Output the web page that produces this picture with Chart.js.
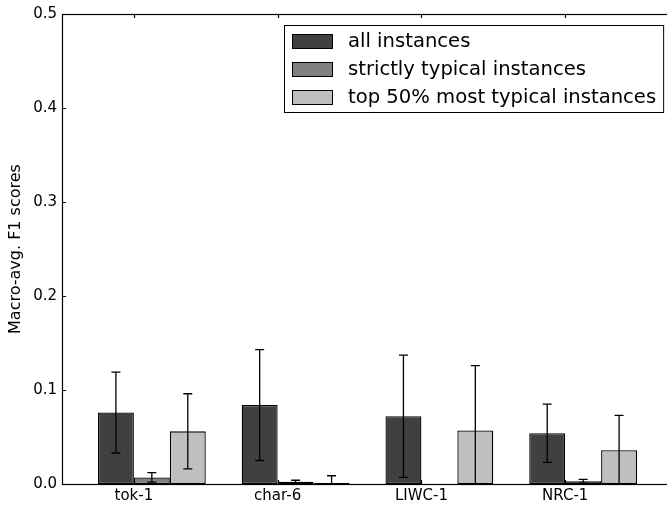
<!DOCTYPE html>
<html>
<head>
<meta charset="utf-8">
<script src="https://cdn.jsdelivr.net/npm/chart.js@4.4.1/dist/chart.umd.min.js"></script>
<style>
html, body { margin: 0; padding: 0; overflow: hidden; background: #fff; }
</style>
</head>
<body>
<canvas id="myChart" width="680" height="508"></canvas>
<script>
// data
const categories = ['tok-1', 'char-6', 'LIWC-1', 'NRC-1'];
const seriesNames = ['all instances', 'strictly typical instances', 'top 50% most typical instances'];
const allInst = [0.076, 0.084, 0.072, 0.054];
const allErr = [0.043, 0.059, 0.065, 0.031];
const strictInst = [0.007, 0.0025, 0.0, 0.003];
const strictErr = [0.005, 0.0015, 0.0, 0.002];
const top50Inst = [0.056, 0.001, 0.057, 0.036];
const top50Err = [0.040, 0.0078, 0.069, 0.037];
const yTicks = [0, 0.1, 0.2, 0.3, 0.4, 0.5];

const fills = ['#404040', '#808080', '#bfbfbf'];
const values = [allInst, strictInst, top50Inst];
const errors = [allErr, strictErr, top50Err];

Chart.defaults.font.family = 'DejaVu Sans';
Chart.defaults.font.size = 15;
Chart.defaults.color = '#000';

// group centre sits 0.375 to the right of the category index, tick at +0.25
const toPoints = arr => arr.map((v, i) => ({ x: i + 0.375, y: v }));

const datasets = values.map((arr, k) => ({
  label: seriesNames[k],
  data: toPoints(arr),
  backgroundColor: fills[k],
  borderColor: '#000',
  borderWidth: 1.3,
  borderSkipped: false,
  barPercentage: 1,
  categoryPercentage: 0.75,
  errors: errors[k]
}));

const extras = {
  id: 'extras',
  afterDatasetsDraw(chart) {
    const c = chart.ctx;
    const area = chart.chartArea;
    const ys = chart.scales.y;
    // error bars
    c.save();
    c.beginPath();
    c.rect(area.left, area.top, area.right - area.left, area.bottom - area.top);
    c.clip();
    c.strokeStyle = '#000';
    c.lineWidth = 1.3;
    chart.data.datasets.forEach((ds, k) => {
      const meta = chart.getDatasetMeta(k);
      meta.data.forEach((bar, i) => {
        const v = ds.data[i].y, e = ds.errors[i];
        if (!e) return;
        const yHi = ys.getPixelForValue(v + e);
        const yLo = ys.getPixelForValue(v - e);
        c.beginPath();
        c.moveTo(bar.x, yHi); c.lineTo(bar.x, yLo);
        c.moveTo(bar.x - 4.5, yHi); c.lineTo(bar.x + 4.5, yHi);
        c.moveTo(bar.x - 4.5, yLo); c.lineTo(bar.x + 4.5, yLo);
        c.stroke();
      });
    });
    c.restore();
  },
  afterDraw(chart) {
    const c = chart.ctx;
    const area = chart.chartArea;
    const xs = chart.scales.x, ys = chart.scales.y;
    c.save();
    c.strokeStyle = '#000';
    c.lineWidth = 1.2;
    // spines
    c.strokeRect(area.left + 0.5, area.top + 0.5, area.right - area.left, area.bottom - area.top);
    // inward ticks
    c.beginPath();
    ys.ticks.forEach(t => {
      const y = Math.round(ys.getPixelForValue(t.value)) + 0.5;
      c.moveTo(area.left, y); c.lineTo(area.left + 4, y);
      c.moveTo(area.right, y); c.lineTo(area.right - 4, y);
    });
    xs.ticks.forEach(t => {
      const x = Math.round(xs.getPixelForValue(t.value)) + 0.5;
      c.moveTo(x, area.top); c.lineTo(x, area.top + 4);
      c.moveTo(x, area.bottom); c.lineTo(x, area.bottom - 4);
    });
    c.stroke();

    // legend box
    c.font = '19.6px DejaVu Sans';
    const names = chart.data.datasets.map(d => d.label);
    const textW = Math.max(...names.map(n => c.measureText(n).width));
    const boxW = 8 + 40 + 16 + textW + 7;
    const boxR = area.right - 10;
    const boxL = Math.round(boxR - boxW);
    const boxT = area.top + 11;
    const rowH = 28;
    const boxH = 3 * rowH + 3;
    c.lineWidth = 1;
    c.fillStyle = '#fff';
    c.fillRect(boxL, boxT, boxW, boxH);
    c.strokeRect(boxL + 0.5, boxT + 0.5, boxW, boxH);
    names.forEach((n, k) => {
      const cy = boxT + 16 + k * rowH;
      c.fillStyle = chart.data.datasets[k].backgroundColor;
      c.fillRect(boxL + 8, cy - 7, 40, 14);
      c.strokeRect(boxL + 8.5, cy - 6.5, 40, 14);
      c.fillStyle = '#000';
      c.textBaseline = 'middle';
      c.fillText(n, boxL + 8 + 40 + 16, cy + 1);
    });
    c.restore();
  }
};

var ctx = document.getElementById('myChart');

var myChart = new Chart(ctx, {
  type: 'bar',
  data: { datasets: datasets },
  options: {
    responsive: false,
    animation: false,
    devicePixelRatio: 1,
    layout: { padding: { top: 10, right: 7, left: 0, bottom: 0 } },
    scales: {
      x: {
        type: 'linear',
        min: -0.25,
        max: 4,
        offset: false,
        grid: { display: false, drawTicks: false, offset: false },
        border: { display: false },
        afterBuildTicks: axis => { axis.ticks = categories.map((c, i) => ({ value: i + 0.25 })); },
        afterFit: axis => { axis.height = 24; },
        ticks: {
          autoSkip: false,
          maxRotation: 0,
          padding: 3,
          callback: (v, i) => categories[i]
        }
      },
      y: {
        min: 0,
        max: 0.5,
        grid: { display: false, drawTicks: false },
        border: { display: false },
        afterBuildTicks: axis => { axis.ticks = yTicks.map(v => ({ value: v })); },
        afterFit: axis => { axis.width = 62; },
        ticks: {
          padding: 5,
          callback: v => v.toFixed(1)
        },
        title: {
          display: true,
          text: 'Macro-avg. F1 scores',
          font: { size: 16 },
          padding: { top: 6, bottom: 0 }
        }
      }
    },
    plugins: {
      legend: { display: false },
      tooltip: { enabled: false }
    }
  },
  plugins: [extras]
});
</script>
</body>
</html>
